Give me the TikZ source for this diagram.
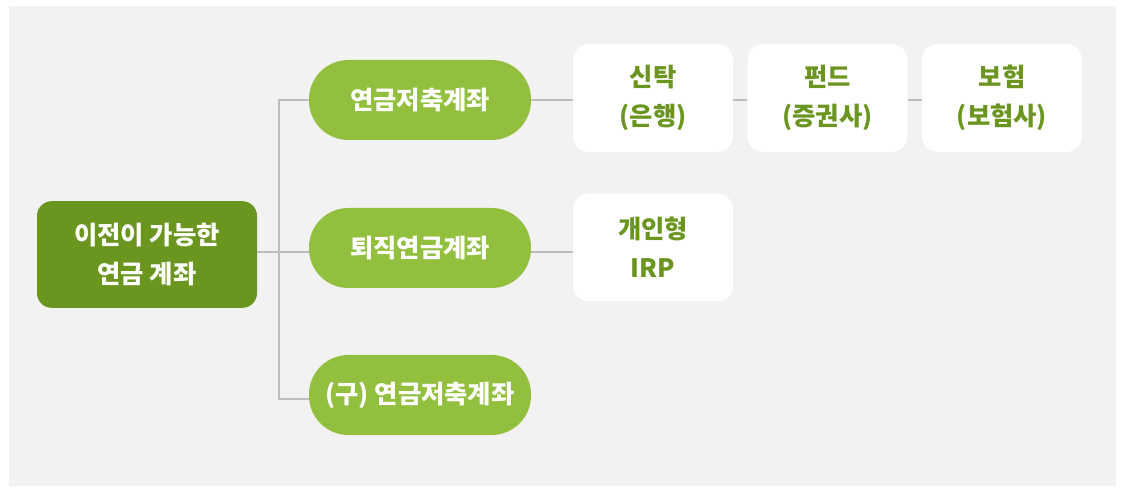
\documentclass[tikz,border=0pt]{standalone}
\usepackage{fontspec}
\setmainfont{Noto Sans CJK KR}
\definecolor{bggray}{HTML}{F2F2F2}
\definecolor{darkgreen}{HTML}{6A961F}
\definecolor{lightgreen}{HTML}{92C03E}
\definecolor{linegray}{HTML}{BDBDBD}
\tikzset{
  root/.style={fill=darkgreen, rounded corners=11pt, minimum width=165pt, minimum height=80pt, align=center, text=white, font=\fontsize{19}{29}\selectfont\bfseries},
  pill/.style={fill=lightgreen, rounded corners=29.5pt, minimum width=166.5pt, minimum height=60pt, text=white, font=\fontsize{19}{29}\selectfont\bfseries},
  leaf/.style={fill=white, rounded corners=12pt, minimum width=120pt, minimum height=81pt, align=center, text=darkgreen, font=\fontsize{19}{29}\selectfont\bfseries},
  link/.style={draw=linegray, line width=1.5pt}
}
\begin{document}
\begin{tikzpicture}[x=0.75pt,y=0.75pt,yscale=-1,xscale=1]
	\useasboundingbox (0,0) rectangle (1124,491);
	%Background
	\fill[bggray] (9,6) rectangle (1116,486);
	
	%Junctions
	\coordinate (jA) at (279,100);
	\coordinate (jB) at (279,252);
	\coordinate (jC) at (279,399);
	
	%Root
	\node[root] (root) at (147,254.5) {이전이 가능한\\연금 계좌};
	%Pills
	\node[pill] (pA) at (420,100) {연금저축계좌};
	\node[pill] (pB) at (420,248) {퇴직연금계좌};
	\node[pill] (pC) at (420,395) {(구) 연금저축계좌};
	%Leaves
	\node[leaf] (bA) at (653,98) {신탁\\(은행)};
	\node[leaf] (bB) at (827.5,98) {펀드\\(증권사)};
	\node[leaf] (bC) at (1002,98) {보험\\(보험사)};
	\node[leaf] (bD) at (653,247.5) {개인형\\IRP};
	
	%Links
	\draw[link] (root.east |- jB) -- (jB);
	\draw[link] (pA.west |- jA) -- (jA) -- (jC) -- (pC.west |- jC);
	\draw[link] (jB) -- (pB.west |- jB);
	\draw[link] (pA.east |- jA) -- (bA.west |- jA);
	\draw[link] (bA.east |- jA) -- (bB.west |- jA);
	\draw[link] (bB.east |- jA) -- (bC.west |- jA);
	\draw[link] (pB.east |- jB) -- (bD.west |- jB);
\end{tikzpicture}
\end{document}
